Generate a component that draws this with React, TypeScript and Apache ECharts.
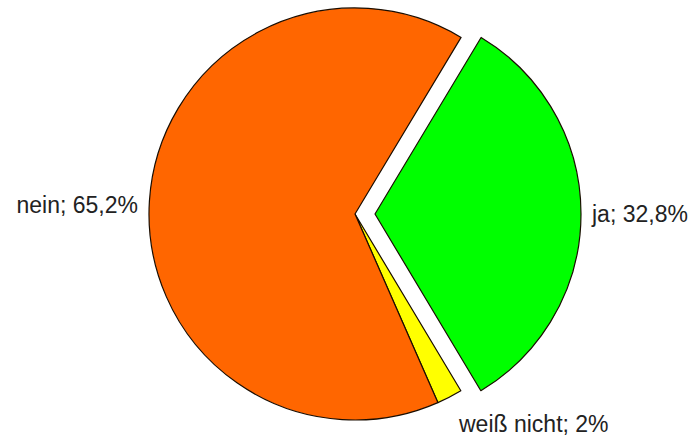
import React, { useEffect, useRef } from "react";
import * as echarts from "echarts";

const categories = ["ja", "weiß nicht", "nein"];
const values = [32.8, 2, 65.2];
const valueLabels = ["32,8%", "2%", "65,2%"];
const colors = ["#00FF00", "#FFFF00", "#FF6600"];
const exploded = [true, false, false];

export default function App() {
  const ref = useRef<HTMLDivElement>(null);
  useEffect(() => {
    if (!ref.current) return;
    const chart = echarts.init(ref.current, null, { renderer: "svg" });
    const labelPos: Record<number, any> = {
      1: { x: 459, y: 424, align: "left", verticalAlign: "middle" },
      2: { x: 138, y: 205, align: "right", verticalAlign: "middle" },
    };
    chart.setOption({
      animation: false,
      backgroundColor: "#ffffff",
      series: [
        {
          type: "pie",
          center: [355, 214],
          radius: 206,
          startAngle: 59,
          clockwise: true,
          selectedMode: "single",
          selectedOffset: 20,
          avoidLabelOverlap: false,
          itemStyle: { borderColor: "#1a0d00", borderWidth: 1.2 },
          emphasis: { disabled: true },
          label: {
            show: true,
            position: "outside",
            fontFamily: "Liberation Sans, Arial, sans-serif",
            fontSize: 23,
            color: "#222222",
            formatter: (p: any) => `${p.name}; ${valueLabels[p.dataIndex]}`,
          },
          labelLine: { show: false },
          labelLayout: (params: any) => labelPos[params.dataIndex] || {},
          data: categories.map((name, i) => ({
            name,
            value: values[i],
            selected: exploded[i],
            itemStyle: { color: colors[i] },
            label: i === 0 ? { distanceToLabelLine: 11, padding: [0, 0, 12, 0] } : undefined,
            labelLine: i === 0 ? { show: false, length: 0, length2: 0 } : undefined,
            select: {
              itemStyle: { color: colors[i], borderColor: "#1a0d00", borderWidth: 1.2 },
            },
          })),
        },
      ],
    });
    return () => chart.dispose();
  }, []);
  return (
    <div
      ref={ref}
      style={{ position: "fixed", left: 0, top: 0, width: 694, height: 436 }}
    />
  );
}
